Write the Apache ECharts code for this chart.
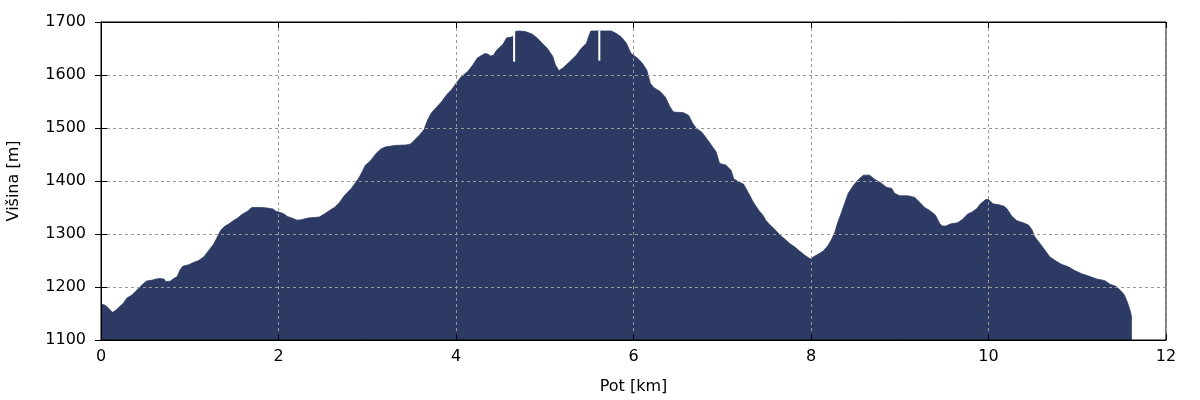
<!DOCTYPE html>
<html>
<head>
<meta charset="utf-8">
<script src="https://cdn.jsdelivr.net/npm/echarts@6/dist/echarts.min.js"></script>
<style>html,body{margin:0;padding:0;background:#fff}#c{width:1200px;height:400px}</style>
</head>
<body>
<div id="c"></div>
<script>
// Distance along the route (km)
var distKm = [0.00,0.04,0.08,0.13,0.18,0.21,0.25,0.29,0.35,0.39,0.45,0.51,0.58,0.62,0.66,0.71,0.73,0.78,0.82,0.86,0.89,0.92,0.99,1.04,1.10,1.16,1.21,1.27,1.31,1.35,1.39,1.44,1.49,1.54,1.58,1.65,1.70,1.77,1.79,1.81,1.87,1.94,1.97,2.03,2.06,2.10,2.15,2.21,2.26,2.33,2.46,2.52,2.58,2.63,2.69,2.74,2.82,2.87,2.91,2.95,2.98,3.03,3.10,3.15,3.20,3.31,3.44,3.49,3.53,3.59,3.64,3.68,3.72,3.78,3.84,3.89,3.95,4.00,4.06,4.13,4.19,4.24,4.32,4.35,4.39,4.42,4.46,4.53,4.57,4.64,4.67,4.71,4.78,4.86,4.92,4.97,5.03,5.09,5.12,5.16,5.21,5.28,5.36,5.41,5.47,5.50,5.52,5.75,5.80,5.86,5.92,5.97,6.05,6.10,6.15,6.19,6.23,6.30,6.36,6.41,6.45,6.56,6.62,6.67,6.71,6.77,6.82,6.88,6.93,6.97,7.04,7.10,7.13,7.19,7.24,7.30,7.35,7.41,7.46,7.49,7.55,7.59,7.65,7.70,7.76,7.82,7.87,7.93,7.99,8.02,8.08,8.14,8.19,8.23,8.27,8.30,8.34,8.38,8.42,8.48,8.53,8.59,8.66,8.72,8.79,8.85,8.91,8.94,9.00,9.09,9.17,9.23,9.28,9.34,9.40,9.45,9.48,9.52,9.57,9.65,9.71,9.76,9.82,9.87,9.91,9.97,10.00,10.05,10.12,10.18,10.21,10.26,10.32,10.39,10.45,10.49,10.52,10.58,10.62,10.69,10.75,10.82,10.90,10.97,11.05,11.12,11.22,11.31,11.37,11.44,11.50,11.53,11.57,11.60,11.615];
// Elevation (m)
var elevM = [1168,1166,1161,1152,1158,1163,1169,1179,1185,1192,1202,1211,1213,1215,1216,1215,1210,1211,1216,1220,1232,1239,1242,1246,1250,1257,1268,1281,1294,1307,1314,1319,1325,1330,1336,1343,1350,1350,1348,1350,1349,1347,1343,1340,1338,1333,1330,1326,1327,1330,1332,1338,1345,1350,1360,1372,1386,1397,1407,1420,1430,1437,1452,1460,1464,1467,1468,1470,1477,1487,1497,1515,1528,1539,1550,1562,1572,1584,1597,1606,1619,1632,1640,1640,1636,1637,1647,1658,1670,1672,1682,1683,1682,1677,1669,1660,1650,1635,1619,1608,1614,1625,1638,1650,1660,1675,1683,1683,1679,1672,1660,1641,1631,1622,1609,1584,1576,1569,1558,1540,1530,1529,1524,1508,1499,1492,1481,1467,1455,1433,1430,1420,1404,1398,1394,1376,1360,1345,1335,1326,1315,1309,1298,1291,1282,1275,1268,1260,1253,1256,1262,1268,1278,1289,1304,1321,1339,1358,1377,1392,1402,1411,1411,1403,1396,1388,1386,1377,1372,1372,1369,1359,1350,1344,1336,1320,1315,1315,1319,1321,1328,1337,1342,1348,1357,1365,1365,1357,1355,1352,1347,1334,1325,1321,1317,1308,1295,1282,1273,1257,1250,1243,1238,1231,1225,1221,1215,1212,1205,1201,1191,1185,1169,1153,1140];
// Data gaps (white vertical breaks)
var gapKm = [4.655, 5.615];
var gapTopM = [1684, 1684];
var gapBottomM = [1625, 1627];

var xTicks = [0,2,4,6,8,10,12];
var yTicks = [1100,1200,1300,1400,1500,1600,1700];

var FONT = 'DejaVu Sans';
var FS = 16;
var profile = distKm.map(function(d,i){return [d, elevM[i]];});

var series = [{
  type: 'line',
  data: profile,
  symbol: 'none',
  lineStyle: {width: 0.8, color: '#2c3a64'},
  areaStyle: {color: '#2c3a64', opacity: 1, origin: 'start'},
  z: 2
}];
gapKm.forEach(function(g,i){
  series.push({
    type: 'line',
    data: [[g, gapTopM[i]], [g, gapBottomM[i]]],
    symbol: 'none',
    lineStyle: {width: 2, color: '#ffffff'},
    z: 3
  });
});

var plain = function(v){ return String(v); };
var splitLine = {show: true, lineStyle: {color: '#999', type: [3,3], width: 1}};
var chart = echarts.init(document.getElementById('c'), null, {renderer: 'canvas'});
chart.setOption({
  animation: false,
  grid: {left: 101, right: 34, top: 22, bottom: 60, outerBoundsMode: 'none', containLabel: false, show: true, borderColor: '#000', borderWidth: 1, backgroundColor: 'transparent', z: 10},
  xAxis: [{
    type: 'value', min: xTicks[0], max: xTicks[xTicks.length-1], interval: 2,
    name: 'Pot [km]', nameLocation: 'middle', nameGap: 39,
    nameTextStyle: {fontFamily: FONT, fontSize: FS, color: '#000'},
    axisLine: {show: true, lineStyle: {color: '#000', width: 1}},
    axisTick: {show: true, inside: true, length: 6, lineStyle: {color: '#000'}},
    axisLabel: {fontFamily: FONT, fontSize: FS, color: '#000', margin: 9, formatter: plain},
    splitLine: splitLine, z: 10
  },{
    type: 'value', position: 'top', min: xTicks[0], max: xTicks[xTicks.length-1], interval: 2,
    axisLine: {show: true, lineStyle: {color: '#000'}},
    axisTick: {show: true, inside: true, length: 6, lineStyle: {color: '#000'}},
    axisLabel: {show: false}, splitLine: {show: false}, z: 10
  }],
  yAxis: [{
    type: 'value', min: yTicks[0], max: yTicks[yTicks.length-1], interval: 100,
    name: 'Višina [m]', nameLocation: 'middle', nameGap: 79, nameRotate: 90,
    nameTextStyle: {fontFamily: FONT, fontSize: FS, color: '#000'},
    axisLine: {show: true, lineStyle: {color: '#000', width: 1}},
    axisTick: {show: true, inside: true, length: 6, lineStyle: {color: '#000'}},
    axisLabel: {fontFamily: FONT, fontSize: FS, color: '#000', margin: 15, formatter: plain},
    splitLine: splitLine, z: 10
  },{
    type: 'value', position: 'right', min: yTicks[0], max: yTicks[yTicks.length-1], interval: 100,
    axisLine: {show: true, lineStyle: {color: '#000'}},
    axisTick: {show: true, inside: true, length: 6, lineStyle: {color: '#000'}},
    axisLabel: {show: false}, splitLine: {show: false}, z: 10
  }],
  series: series
});
</script>
</body>
</html>
